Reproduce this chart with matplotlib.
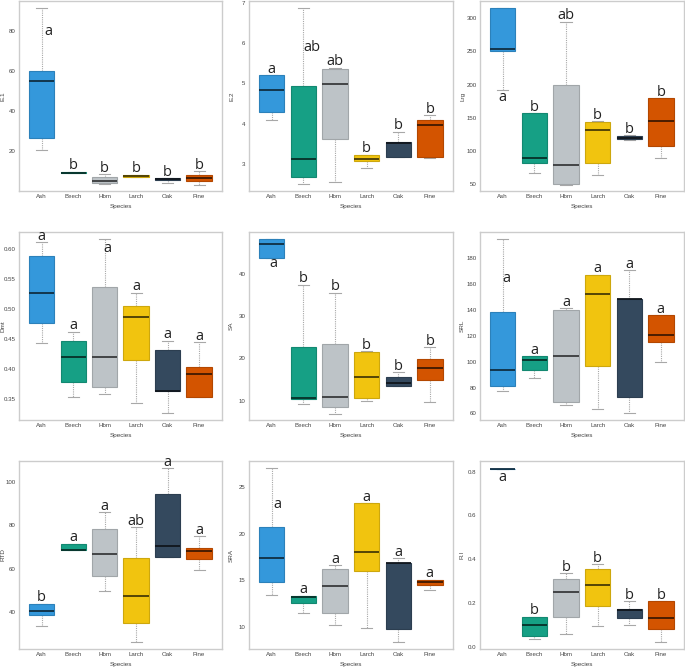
import matplotlib
matplotlib.use("Agg")
import matplotlib.pyplot as plt
import matplotlib.colors as mcolors

species = ["Ash", "Beech", "Hbm", "Larch", "Oak", "Pine"]
colors = ["#3498db", "#16a085", "#bdc3c7", "#f1c40f", "#34495e", "#d35400"]

# five-number summaries per species: (whisker low, Q1, median, Q3, whisker high)
e1_stats = [(20.5, 26.7, 55.0, 60.2, 91.5), (8.9, 8.9, 9.3, 9.8, 9.8),
            (3.7, 4.3, 5.3, 6.9, 8.5), (7.0, 7.0, 7.6, 8.3, 8.3),
            (4.3, 5.5, 6.0, 6.5, 6.5), (3.3, 5.0, 6.7, 7.9, 10.2)]
e1_letters = ["a", "b", "b", "b", "b", "b"]

e2_stats = [(4.10, 4.29, 4.83, 5.20, 5.20), (2.50, 2.67, 3.13, 4.93, 6.86),
            (2.56, 3.62, 4.98, 5.35, 5.39), (2.89, 3.07, 3.13, 3.23, 3.23),
            (3.17, 3.17, 3.52, 3.54, 3.80), (3.14, 3.18, 3.96, 4.08, 4.22)]
e2_letters = ["a", "ab", "ab", "b", "b", "b"]

lrg_stats = [(192, 250, 253, 315, 315), (66, 81, 88.7, 157, 157),
             (48.5, 50.5, 78.5, 200, 295), (62.7, 82, 131, 143.7, 145),
             (117, 118, 120, 123, 124), (88.7, 107, 145, 180, 180)]
lrg_letters = ["a", "b", "ab", "b", "b", "b"]

dmt_stats = [(0.443, 0.476, 0.527, 0.589, 0.612), (0.353, 0.378, 0.419, 0.446, 0.462),
             (0.357, 0.370, 0.419, 0.536, 0.617), (0.343, 0.414, 0.487, 0.504, 0.527),
             (0.326, 0.362, 0.362, 0.432, 0.447), (0.353, 0.353, 0.392, 0.403, 0.445)]
dmt_letters = ["a", "a", "a", "a", "a", "a"]

sa_stats = [(43.7, 43.7, 46.9, 48.1, 48.1), (9.3, 10.55, 10.7, 22.7, 37.4),
            (6.9, 8.5, 10.9, 23.5, 35.5), (10.0, 10.7, 15.6, 21.6, 21.7),
            (13.4, 13.4, 14.3, 15.7, 16.85), (9.8, 14.9, 17.8, 19.9, 22.75)]
sa_letters = ["a", "b", "b", "b", "b", "b"]

srl_stats = [(77.2, 81.1, 93.9, 138.4, 194.4), (87.0, 93.9, 101.1, 104.5, 104.5),
             (66.7, 69.0, 104.7, 139.7, 141.5), (63.1, 96.8, 152.0, 167.2, 167.2),
             (60.0, 72.3, 148.7, 148.7, 170.5), (99.8, 114.8, 120.2, 135.8, 135.8)]
srl_letters = ["a", "a", "a", "a", "a", "a"]

rtd_stats = [(33.6, 38.9, 40.5, 44.0, 44.0), (68.5, 68.5, 68.7, 71.6, 71.6),
             (49.9, 56.5, 66.9, 78.3, 86.0), (26.4, 35.1, 47.5, 65.0, 79.2),
             (65.5, 65.5, 70.7, 94.5, 106.4), (59.4, 64.6, 68.1, 69.4, 75.1)]
rtd_letters = ["b", "a", "a", "ab", "a", "a"]

sra_stats = [(13.43, 14.79, 17.39, 20.68, 27.07), (11.5, 12.57, 13.2, 13.36, 13.36),
             (10.25, 11.54, 14.39, 16.25, 16.6), (9.93, 16.04, 18.0, 23.32, 23.32),
             (8.39, 9.79, 16.82, 16.82, 17.36), (13.93, 14.54, 14.79, 15.07, 15.07)]
sra_letters = ["a", "a", "a", "a", "a", "a"]

ri_stats = [(0.812, 0.812, 0.812, 0.812, 0.812), (0.036, 0.050, 0.097, 0.137, 0.137),
            (0.056, 0.138, 0.251, 0.309, 0.338), (0.096, 0.187, 0.284, 0.354, 0.379),
            (0.097, 0.129, 0.170, 0.172, 0.208), (0.021, 0.079, 0.132, 0.210, 0.210)]
ri_letters = ["a", "b", "b", "b", "b", "b"]

panels = [
    ("E.1", e1_stats, e1_letters, (0.1, 95.2), [20, 40, 60, 80], "{:.0f}", {0: (78.1, 0.23)}),
    ("E.2", e2_stats, e2_letters, (2.33, 7.04), [3, 4, 5, 6, 7], "{:.0f}", {1: (5.81, 0.27)}),
    ("Lrg", lrg_stats, lrg_letters, (39.3, 326), [50, 100, 150, 200, 250, 300], "{:.0f}", {0: (175.3, 0.0)}),
    ("Dmt", dmt_stats, dmt_letters, (0.3144, 0.6283), [0.35, 0.40, 0.45, 0.50, 0.55, 0.60], "{:.2f}", {2: (0.595, 0.1)}),
    ("SA", sa_stats, sa_letters, (5.5, 49.8), [10, 20, 30, 40], "{:.0f}", {0: (41.6, 0.05)}),
    ("SRL", srl_stats, srl_letters, (54.9, 200.1), [60, 80, 100, 120, 140, 160, 180], "{:.0f}", {0: (161.5, 0.13)}),
    ("RTD", rtd_stats, rtd_letters, (23.2, 109.5), [40, 60, 80, 100], "{:.0f}", {}),
    ("SRA", sra_stats, sra_letters, (7.64, 27.8), [10, 15, 20, 25], "{:.0f}", {0: (22.8, 0.18)}),
    ("R.I", ri_stats, ri_letters, (-0.0106, 0.849), [0.0, 0.2, 0.4, 0.6, 0.8], "{:.1f}", {0: (0.757, 0.0)}),
]

W, H = 685, 668
fig = plt.figure(figsize=(W / 100, H / 100), dpi=100)
col_left = [19, 249, 480]
col_w = [203, 204, 204]
row_top = [1, 232, 461]
row_h = [190, 188, 188]
ylabel_off = [14, 15, 15]

tick_font = "Liberation Sans"
letter_font = ["Open Sans", "DejaVu Sans"]


def darken(c, f):
    r, g, b = mcolors.to_rgb(c)
    return (r * f, g * f, b * f)


for i, (ylab, stats, letters, ylim, yticks, fmt, special) in enumerate(panels):
    r, c = divmod(i, 3)
    ax = fig.add_axes([col_left[c] / W, 1 - (row_top[r] + row_h[r]) / H,
                       col_w[c] / W, row_h[r] / H])
    pos = list(range(len(species)))
    bstats = []
    for name, s in zip(species, stats):
        bstats.append(dict(label=name, whislo=s[0], q1=s[1], med=s[2], q3=s[3], whishi=s[4]))
    bp = ax.bxp(bstats, positions=pos, widths=0.8, patch_artist=True, showfliers=False,
                capwidths=0.35,
                whiskerprops=dict(color="#a8a8a8", linestyle=(0, (1, 1)), linewidth=0.8),
                capprops=dict(color="#a8a8a8", linewidth=0.8),
                medianprops=dict(linewidth=1.3))
    for j, box in enumerate(bp["boxes"]):
        box.set_facecolor(colors[j])
        box.set_edgecolor(darken(colors[j], 0.85))
        box.set_linewidth(0.8)
        box.set_zorder(3)
        bp["medians"][j].set_color(darken(colors[j], 0.3))
        bp["medians"][j].set_zorder(4)

    for j, s in enumerate(stats):
        if j in special:
            y, dx = special[j]
            ax.text(j + dx, y, letters[j], ha="center", va="baseline", fontsize=10.5,
                    family=letter_font, color="#222222", zorder=5)
        else:
            ax.annotate(letters[j], xy=(j, s[4]), xytext=(0, 1.6), textcoords="offset points",
                        ha="center", va="baseline", fontsize=10.5, family=letter_font,
                        color="#222222", zorder=5)

    ax.set_xlim(-0.72, 5.73)
    ax.set_ylim(*ylim)
    ax.set_xticks(pos)
    ax.set_xticklabels(species, fontsize=4.4, family=tick_font, color="#444444")
    ax.set_yticks(yticks)
    ax.set_yticklabels([fmt.format(v) for v in yticks], fontsize=4.4, family=tick_font, color="#444444")
    ax.tick_params(length=0, pad=2.5)
    ax.set_xlabel("Species", fontsize=4.6, family=tick_font, color="#444444", labelpad=3)
    ax.set_ylabel(ylab, fontsize=4.6, family=tick_font, color="#444444")
    ax.yaxis.set_label_coords(-ylabel_off[c] / col_w[c], 0.5)
    for sp in ax.spines.values():
        sp.set_color("#cccccc")
        sp.set_linewidth(1.0)

fig.savefig("out.png", dpi=100, facecolor="white")
